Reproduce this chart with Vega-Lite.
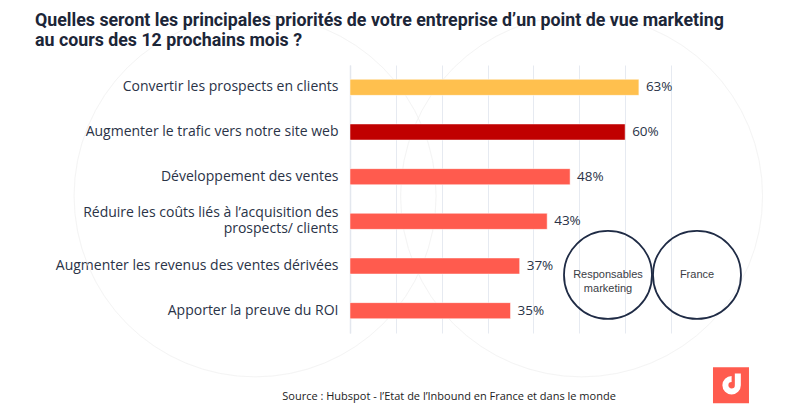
{
  "$schema": "https://vega.github.io/schema/vega-lite/v6.json",
  "width": 321,
  "height": 268,
  "autosize": {"type": "none"},
  "padding": {"left": 350, "top": 65, "right": 129, "bottom": 85},
  "background": "white",
  "config": {"view": {"stroke": null}},
  "title": {
    "text": ["Quelles seront les principales priorités de votre entreprise d’un point de vue marketing", "au cours des 12 prochains mois ?"],
    "anchor": "start",
    "frame": "group",
    "dx": -315,
    "dy": 51,
    "offset": 14,
    "font": "Roboto",
    "fontSize": 17.8,
    "fontWeight": "bold",
    "lineHeight": 20,
    "color": "#1c2638"
  },
  "datasets": {
    "bars": [
      {"priorite": "Convertir les prospects en clients", "pct": 63},
      {"priorite": "Augmenter le trafic vers notre site web", "pct": 60},
      {"priorite": "Développement des ventes", "pct": 48},
      {"priorite": "Réduire les coûts liés à l’acquisition des|prospects/ clients", "pct": 43},
      {"priorite": "Augmenter les revenus des ventes dérivées", "pct": 37},
      {"priorite": "Apporter la preuve du ROI", "pct": 35}
    ],
    "decor": [
      {"x": -20.7, "y": 2.93},
      {"x": 50.5, "y": 2.93}
    ],
    "cercles": [
      {"x": 56.26, "y": 4.70, "texte": ["Responsables", "marketing"]},
      {"x": 75.67, "y": 4.70, "texte": ["France"]}
    ],
    "logo": [{"x": 83.08, "y": 7.17}],
    "source": [{"x": 21.6, "y": 7.43, "texte": "Source : Hubspot -  l’Etat de l’Inbound en France et dans le monde"}]
  },
  "resolve": {"scale": {"y": "independent"}, "axis": {"y": "independent"}},
  "layer": [
    {
      "data": {"name": "decor"},
      "mark": {"type": "point", "shape": "circle", "filled": false, "size": 131044, "stroke": "#f0f0f0", "strokeWidth": 1, "clip": false},
      "encoding": {
        "x": {"field": "x", "type": "quantitative", "scale": {"domain": [0, 70], "nice": false, "zero": false}, "axis": {"grid": true, "gridColor": "#e6eaf1", "labels": false, "ticks": false, "domain": false, "title": null, "values": [0, 10, 20, 30, 40, 50, 60, 70]}},
        "y": {"field": "y", "type": "quantitative", "scale": {"domain": [0, 6], "reverse": true, "nice": false, "zero": false}, "axis": null}
      }
    },
    {
      "data": {"name": "bars"},
      "mark": {"type": "bar", "stroke": "white", "strokeWidth": 0.5},
      "encoding": {
        "y": {"field": "priorite", "type": "nominal", "sort": null, "scale": {"paddingInner": 0.64, "paddingOuter": 0.32},
          "axis": {"title": null, "ticks": false, "domainColor": "#e3e7ee", "domainWidth": 1.5, "labelExpr": "split(datum.label, '|')", "labelFont": "Open Sans", "labelFontSize": 14, "labelColor": "#2a3347", "labelPadding": 12, "labelLineHeight": 16, "labelLimit": 400,
            "labelOffset": {"condition": {"test": "indexof(datum.value, '|') >= 0", "value": -8}, "value": 0}}},
        "x": {"field": "pct", "type": "quantitative"},
        "color": {"field": "priorite", "type": "nominal", "legend": null,
          "scale": {"domain": ["Convertir les prospects en clients", "Augmenter le trafic vers notre site web", "Développement des ventes", "Réduire les coûts liés à l’acquisition des|prospects/ clients", "Augmenter les revenus des ventes dérivées", "Apporter la preuve du ROI"],
            "range": ["#FFC04E", "#C00000", "#FF5B4E", "#FF5B4E", "#FF5B4E", "#FF5B4E"]}}
      }
    },
    {
      "data": {"name": "bars"},
      "transform": [{"calculate": "datum.pct + '%'", "as": "lbl"}],
      "mark": {"type": "text", "align": "left", "baseline": "middle", "dx": 7, "font": "Open Sans", "fontSize": 13.5, "color": "#2a3347"},
      "encoding": {
        "y": {"field": "priorite", "type": "nominal", "sort": null, "scale": {"paddingInner": 0.64, "paddingOuter": 0.32}, "axis": null},
        "x": {"field": "pct", "type": "quantitative"},
        "text": {"field": "lbl"}
      }
    },
    {
      "data": {"name": "cercles"},
      "mark": {"type": "point", "shape": "circle", "filled": false, "size": 7744, "stroke": "#1f2b45", "strokeWidth": 1.8, "opacity": 1, "clip": false},
      "encoding": {
        "x": {"field": "x", "type": "quantitative"},
        "y": {"field": "y", "type": "quantitative", "scale": {"domain": [0, 6], "reverse": true, "nice": false, "zero": false}, "axis": null}
      }
    },
    {
      "data": {"name": "cercles"},
      "mark": {"type": "text", "font": "Liberation Sans", "fontSize": 11, "color": "#3a3d45", "lineHeight": 14, "baseline": "middle"},
      "encoding": {
        "x": {"field": "x", "type": "quantitative"},
        "y": {"field": "y", "type": "quantitative", "scale": {"domain": [0, 6], "reverse": true, "nice": false, "zero": false}, "axis": null},
        "text": {"field": "texte"}
      }
    },
    {
      "data": {"name": "logo"},
      "mark": {"type": "point", "shape": "square", "filled": true, "size": 1296, "color": "#FF5B4E", "opacity": 1, "clip": false},
      "encoding": {
        "x": {"field": "x", "type": "quantitative"},
        "y": {"field": "y", "type": "quantitative", "scale": {"domain": [0, 6], "reverse": true, "nice": false, "zero": false}, "axis": null}
      }
    },
    {
      "data": {"name": "logo"},
      "mark": {"type": "point", "shape": "M 0.05 -0.5 A 0.5 0.5 0 1 0 0.55 0 L 0.55 -0.95", "filled": false, "size": 620, "stroke": "white", "strokeWidth": 6, "opacity": 1, "clip": false},
      "encoding": {
        "x": {"field": "x", "type": "quantitative"},
        "y": {"field": "y", "type": "quantitative", "scale": {"domain": [0, 6], "reverse": true, "nice": false, "zero": false}, "axis": null}
      }
    },
    {
      "data": {"name": "source"},
      "mark": {"type": "text", "font": "Open Sans", "fontSize": 11, "color": "#222222", "baseline": "middle", "clip": false},
      "encoding": {
        "x": {"field": "x", "type": "quantitative"},
        "y": {"field": "y", "type": "quantitative", "scale": {"domain": [0, 6], "reverse": true, "nice": false, "zero": false}, "axis": null},
        "text": {"field": "texte"}
      }
    }
  ]
}
